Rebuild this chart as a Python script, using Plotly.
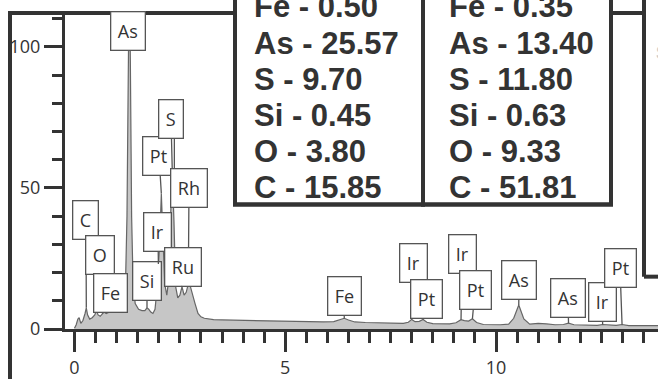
import plotly.graph_objects as go

# ---------------- data ----------------
energy_kev = [
    0.00, 0.04, 0.08, 0.11, 0.15, 0.20, 0.25, 0.28, 0.31, 0.36,
    0.42, 0.48, 0.52, 0.56, 0.61, 0.66, 0.70, 0.75, 0.82, 0.90,
    0.98, 1.06, 1.12, 1.17, 1.21, 1.245, 1.275, 1.30, 1.325, 1.355,
    1.39, 1.44, 1.52, 1.60, 1.67, 1.72, 1.76, 1.81, 1.86, 1.91,
    1.95, 1.99, 2.02, 2.06, 2.10, 2.14, 2.19, 2.24, 2.28, 2.32,
    2.36, 2.40, 2.45, 2.50, 2.55, 2.60, 2.65, 2.70, 2.75, 2.80,
    2.86, 2.93, 3.00, 3.08, 3.18, 3.30, 3.50, 3.80, 4.10, 4.40,
    4.70, 5.00, 5.30, 5.60, 5.90, 6.15, 6.30, 6.40, 6.50, 6.65,
    6.90, 7.20, 7.50, 7.80, 7.92, 8.00, 8.08, 8.18, 8.27, 8.36,
    8.50, 8.70, 8.90, 9.05, 9.17, 9.25, 9.35, 9.44, 9.54, 9.70,
    9.90, 10.10, 10.30, 10.42, 10.54, 10.66, 10.80, 11.00, 11.20, 11.40,
    11.60, 11.72, 11.85, 12.00, 12.20, 12.40, 12.53, 12.70, 12.85, 12.99,
    13.15, 13.40, 13.60, 13.90,
]
counts = [
    0.3, 1.5, 3.5, 4.0, 2.0, 3.0, 5.5, 7.5, 5.0, 3.5,
    4.0, 5.0, 6.5, 5.0, 4.5, 5.5, 6.0, 5.5, 6.0, 6.5,
    7.5, 8.5, 9.5, 11.0, 16.0, 40.0, 95.0, 130.0, 95.0, 40.0,
    16.0, 9.0, 7.0, 6.5, 6.5, 7.5, 7.0, 6.0, 5.5, 7.0,
    13.0, 23.0, 30.0, 48.0, 30.0, 16.0, 12.0, 18.0, 40.0, 56.0,
    38.0, 15.0, 11.0, 12.0, 15.0, 12.0, 13.0, 16.0, 15.0, 12.0,
    9.0, 5.5, 4.3, 3.8, 3.5, 3.3, 3.2, 3.1, 3.0, 2.9,
    2.8, 2.7, 2.6, 2.5, 2.5, 2.6, 3.2, 3.8, 3.2, 2.5,
    2.3, 2.2, 2.1, 2.0, 2.4, 3.4, 2.6, 2.7, 3.4, 2.4,
    1.9, 1.8, 1.8, 2.2, 3.3, 3.0, 2.8, 3.6, 2.3, 1.6,
    1.5, 1.5, 1.7, 3.8, 8.5, 3.6, 1.7, 2.0, 1.8, 1.5,
    1.6, 2.1, 1.5, 1.4, 1.3, 1.3, 1.6, 1.3, 1.3, 1.6,
    1.2, 1.2, 1.2, 1.2,
]

peak_labels = ["As", "C", "O", "Fe", "Si", "Ir", "Pt", "S", "Rh", "Ru",
               "Fe", "Ir", "Pt", "Ir", "Pt", "As", "As", "Ir", "Pt"]
peak_energy = [1.30, 0.28, 0.52, 0.66, 1.72, 1.99, 2.06, 2.32, 2.70, 2.55,
               6.40, 8.00, 8.27, 9.17, 9.44, 10.54, 11.72, 12.53, 12.99]
peak_counts = [100, 7.5, 6.5, 5.5, 7.5, 23, 48, 56, 16, 15,
               3.8, 3.4, 3.4, 3.3, 3.6, 8.5, 2.1, 1.6, 1.6]

table_elements = ["Fe", "As", "S", "Si", "O", "C"]
table1_values = [0.50, 25.57, 9.70, 0.45, 3.80, 15.85]
table2_values = [0.35, 13.40, 11.80, 0.63, 9.33, 51.81]

x_tick_values = [0, 5, 10]
y_tick_values = [0, 50, 100]

# ---------------- layout geometry (pixels) ----------------
W, H = 658, 379
PL, PR, PT, PB = 65, 658, 15, 333          # plot area in pixels
X_MIN, X_MAX = -0.2254, 13.843
Y_MIN, Y_MAX = 0, 111.3

def x_px(e):
    return PL + (e - X_MIN) / (X_MAX - X_MIN) * (PR - PL)

def y_px(c):
    return PB - (c - Y_MIN) / (Y_MAX - Y_MIN) * (PB - PT)

def px_paper_x(px):
    return (px - PL) / (PR - PL)

def px_paper_y(py):
    return (PB - py) / (PB - PT)

# callout box centres (pixels)
label_box_px = [(128, 31), (86, 224), (100, 259), (111, 297), (147, 285),
                (158, 235), (159, 158), (171, 121), (189, 191), (183, 270),
                (344, 300), (414, 267), (427, 303), (462, 258), (475, 294),
                (519, 284), (568, 302), (602, 306), (620, 272)]

INK = "#333333"

fig = go.Figure()
fig.add_trace(go.Scatter(
    x=energy_kev, y=counts, mode="lines",
    line=dict(color="#666666", width=1.2),
    fill="tozeroy", fillcolor="#c6c6c6",
    hoverinfo="skip", showlegend=False,
))

annotations = []
for lab, e, c, (cx, cy) in zip(peak_labels, peak_energy, peak_counts, label_box_px):
    annotations.append(dict(
        x=e, y=c, xref="x", yref="y",
        ax=cx - x_px(e), ay=cy - y_px(c),
        text=lab, showarrow=True, arrowhead=0, arrowwidth=1.3,
        arrowcolor="#555555", standoff=0,
        font=dict(family="Open Sans", size=18, color=INK),
        bgcolor="white", bordercolor="#555555", borderwidth=1.3, borderpad=6.5,
    ))

# composition tables
line_y = [6, 43.5, 80, 116.5, 153, 189.5]
for col_x, values in ((252, table1_values), (447, table2_values)):
    for el, v, ly in zip(table_elements, values, line_y):
        annotations.append(dict(
            x=px_paper_x(col_x), y=px_paper_y(ly), xref="paper", yref="paper",
            xanchor="left", yanchor="middle", showarrow=False,
            text=f"{el} - {v:.2f}",
            font=dict(family="Liberation Sans", size=31, color=INK, weight="bold"),
        ))

# faint cut-off letter at the right edge
annotations.append(dict(
    x=px_paper_x(654), y=px_paper_y(53), xref="paper", yref="paper",
    xanchor="left", yanchor="middle", showarrow=False, text="S",
    font=dict(family="Liberation Sans", size=18, color="#c8c8c8", weight="bold"),
))

def seg(x0, y0, x1, y1, w=4):
    return dict(type="line", xref="paper", yref="paper",
                x0=px_paper_x(x0), y0=px_paper_y(y0),
                x1=px_paper_x(x1), y1=px_paper_y(y1),
                line=dict(color=INK, width=w), layer="above")

def rect(x0, y0, x1, y1, w=4):
    return dict(type="rect", xref="paper", yref="paper",
                x0=px_paper_x(x0), y0=px_paper_y(y0),
                x1=px_paper_x(x1), y1=px_paper_y(y1),
                line=dict(color=INK, width=w), fillcolor="white", layer="below")

shapes = [
    seg(10, 13, 10, 385),
    seg(8, 13, 235, 13),
    rect(235, -20, 423, 207),
    rect(423, -20, 611, 207),
    seg(611, 13, 644, 13),
    seg(644, -20, 644, 280),
    seg(644, 280, 670, 280),
    dict(type="rect", xref="paper", yref="paper",
         x0=px_paper_x(235), y0=px_paper_y(-20), x1=px_paper_x(423), y1=px_paper_y(207),
         line=dict(color=INK, width=4), layer="above"),
    dict(type="rect", xref="paper", yref="paper",
         x0=px_paper_x(423), y0=px_paper_y(-20), x1=px_paper_x(611), y1=px_paper_y(207),
         line=dict(color=INK, width=4), layer="above"),
]

fig.update_layout(
    width=W, height=H,
    margin=dict(l=PL, r=W - PR, t=PT, b=H - PB, pad=0),
    paper_bgcolor="white", plot_bgcolor="white",
    showlegend=False,
    annotations=annotations,
    shapes=shapes,
    xaxis=dict(
        range=[X_MIN, X_MAX], tickvals=x_tick_values,
        ticks="outside", ticklen=20, tickwidth=3, tickcolor=INK,
        minor=dict(dtick=0.5, tick0=0, ticks="outside", ticklen=11, tickwidth=3, tickcolor=INK),
        showline=True, linewidth=3, linecolor=INK,
        showgrid=False, zeroline=False,
        tickfont=dict(family="Open Sans", size=18, color=INK),
        fixedrange=True,
    ),
    yaxis=dict(
        range=[Y_MIN, Y_MAX], tickvals=y_tick_values,
        ticks="outside", ticklen=18, tickwidth=3, tickcolor=INK,
        minor=dict(dtick=10, tick0=0, ticks="outside", ticklen=10, tickwidth=3, tickcolor=INK),
        showline=True, linewidth=3, linecolor=INK,
        showgrid=False, zeroline=False,
        tickfont=dict(family="Open Sans", size=18, color=INK),
        fixedrange=True,
    ),
)

fig.write_html(
    "out.html",
    config={"displayModeBar": False, "staticPlot": True},
    post_script="document.body.style.margin='0';document.body.style.overflow='hidden';",
)
